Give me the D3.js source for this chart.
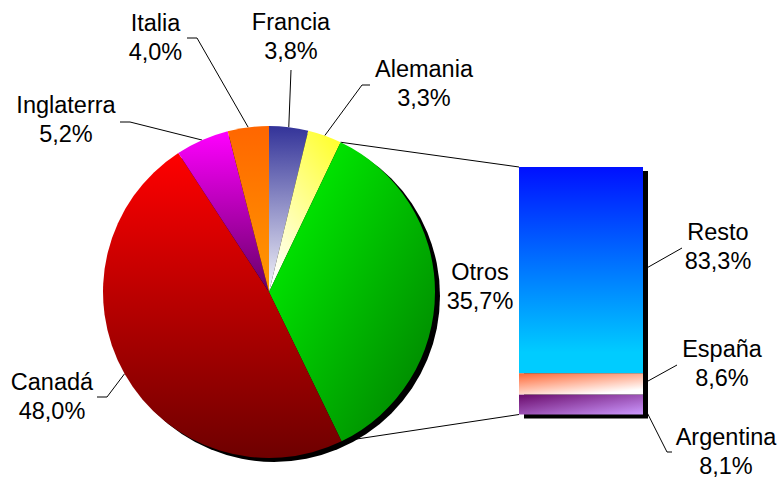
<!DOCTYPE html>
<html>
<head>
<meta charset="utf-8">
<script src="https://cdn.jsdelivr.net/npm/d3@7"></script>
<style>
  body { margin: 0; background: #fff; }
  text { font-family: "Liberation Sans", Arial, sans-serif; font-size: 23.5px; fill: #000; }
</style>
</head>
<body>
<div id="chart"></div>
<script>
// datos del grafico
var pieLabels = ["Francia", "Alemania", "Otros", "Canadá", "Inglaterra", "Italia"];
var pieValues = [3.8, 3.3, 35.7, 48.0, 5.2, 4.0];
var barLabels = ["Argentina", "España", "Resto"];   // de abajo hacia arriba
var barValues = [8.1, 8.6, 83.3];
var splitIndex = 2;  // "Otros" se desglosa en la barra

// dimensiones
var width = 779, height = 478;
var cx = 269, cy = 292, radius = 166;
var bar = {x: 519, w: 124, top: 167, bottom: 414.5};
var shadow = {dx: 5, dy: 4};
var lineGap = 29;

// degradados (color inicio, color fin, direccion)
var pieFills = [
  ["#333399", "#f6f6fa", 0, 0, 0, 1],
  ["#ffff33", "#ffffff", 0.8, 0, 0.2, 1],
  ["#00ff00", "#007a00", 0, 0, 1, 1],
  ["#ff0000", "#6e0000", 0, 0, 0, 1],
  ["#ff00ff", "#660066", 0, 0, 0, 1],
  ["#ff6600", "#ff9900", 0, 0, 0, 1]
];
var barFills = [
  ["#6a0a6a", "#cc99ff", 0, 0, 1, 1],
  ["#ff6633", "#ffffff", 0, 0, 0.6, 1],
  ["#0010ff", "#00ccff", 0, 0, 0, 0.9]
];

// posicion de etiquetas: texto [x, y] y codo de la linea guia
var pieLabelPos = [
  {t: [291, 30], line: [[291, 70]]},
  {t: [424, 77], line: [[362, 85], [370, 85]]},
  {t: [480, 280], line: null},
  {t: [52, 390], line: [[107, 397], [97, 397]]},
  {t: [66, 113], line: [[130, 122], [120, 122]]},
  {t: [155.5, 30.5], line: [[197, 38], [187, 38]]}
];
var barLabelPos = [
  {t: [726, 445], line: [[667, 452], [672, 452]]},
  {t: [722, 357], line: [[677, 365]]},
  {t: [718, 240], line: [[682, 248]]}
];

var fmt = function(v) { return d3.format(".1f")(v).replace(".", ",") + "%"; };

var svg = d3.select("#chart").append("svg")
    .attr("width", width)
    .attr("height", height);
var defs = svg.append("defs");

function gradient(id, f) {
  var g = defs.append("linearGradient").attr("id", id)
    .attr("x1", f[2]).attr("y1", f[3]).attr("x2", f[4]).attr("y2", f[5]);
  g.append("stop").attr("offset", 0).attr("stop-color", f[0]);
  g.append("stop").attr("offset", 1).attr("stop-color", f[1]);
}
pieFills.forEach(function(f, i) { gradient("pg" + i, f); });
barFills.forEach(function(f, i) { gradient("bg" + i, f); });

// tarta
var pie = d3.pie().sort(null).value(function(d) { return d; });
var arcs = pie(pieValues);
var arc = d3.arc().innerRadius(0).outerRadius(radius);

function onRim(a) {
  return [cx + radius * Math.sin(a), cy - radius * Math.cos(a)];
}

// barra
var y = d3.scaleLinear().domain([0, d3.sum(barValues)]).range([bar.bottom, bar.top]);
var stack = [];
var acc = 0;
barValues.forEach(function(v, i) {
  stack.push({i: i, v: v, y0: acc, y1: acc + v});
  acc += v;
});

// lineas de union tarta - barra
var sp = arcs[splitIndex];
var lineG = svg.append("g").attr("stroke", "#000").attr("stroke-width", 1).attr("fill", "none");
lineG.append("line")
  .attr("x1", onRim(sp.startAngle)[0]).attr("y1", onRim(sp.startAngle)[1])
  .attr("x2", bar.x).attr("y2", y(d3.sum(barValues)));
lineG.append("line")
  .attr("x1", onRim(sp.endAngle)[0]).attr("y1", onRim(sp.endAngle)[1])
  .attr("x2", bar.x).attr("y2", y(0));

// lineas guia
var line = d3.line();
arcs.forEach(function(d, i) {
  var p = pieLabelPos[i];
  if (!p.line) return;
  var start = onRim((d.startAngle + d.endAngle) / 2);
  lineG.append("path").attr("d", line([start].concat(p.line)));
});
stack.forEach(function(d) {
  var p = barLabelPos[d.i];
  var start = [bar.x + bar.w, (y(d.y0) + y(d.y1)) / 2];
  lineG.append("path").attr("d", line([start].concat(p.line)));
});

// sombra y sectores
svg.append("circle")
  .attr("cx", cx + shadow.dx).attr("cy", cy + shadow.dy).attr("r", radius)
  .attr("fill", "#000");
svg.append("g")
  .attr("transform", "translate(" + cx + "," + cy + ")")
  .selectAll("path")
  .data(arcs)
  .enter()
  .append("path")
    .attr("d", arc)
    .attr("fill", function(d, i) { return "url(#pg" + i + ")"; });

// sombra y segmentos de la barra
svg.append("rect")
  .attr("x", bar.x + shadow.dx).attr("y", bar.top + shadow.dy)
  .attr("width", bar.w).attr("height", bar.bottom - bar.top)
  .attr("fill", "#000");
svg.append("g")
  .selectAll("rect")
  .data(stack)
  .enter()
  .append("rect")
    .attr("x", bar.x)
    .attr("y", function(d) { return y(d.y1); })
    .attr("width", bar.w)
    .attr("height", function(d) { return y(d.y0) - y(d.y1); })
    .attr("fill", function(d) { return "url(#bg" + d.i + ")"; });

// etiquetas
function label(pos, name, v) {
  var t = svg.append("text").attr("text-anchor", "middle");
  t.append("tspan").attr("x", pos[0]).attr("y", pos[1]).text(name);
  t.append("tspan").attr("x", pos[0]).attr("y", pos[1] + lineGap).text(fmt(v));
}
pieLabels.forEach(function(n, i) { label(pieLabelPos[i].t, n, pieValues[i]); });
barLabels.forEach(function(n, i) { label(barLabelPos[i].t, n, barValues[i]); });
</script>
</body>
</html>
